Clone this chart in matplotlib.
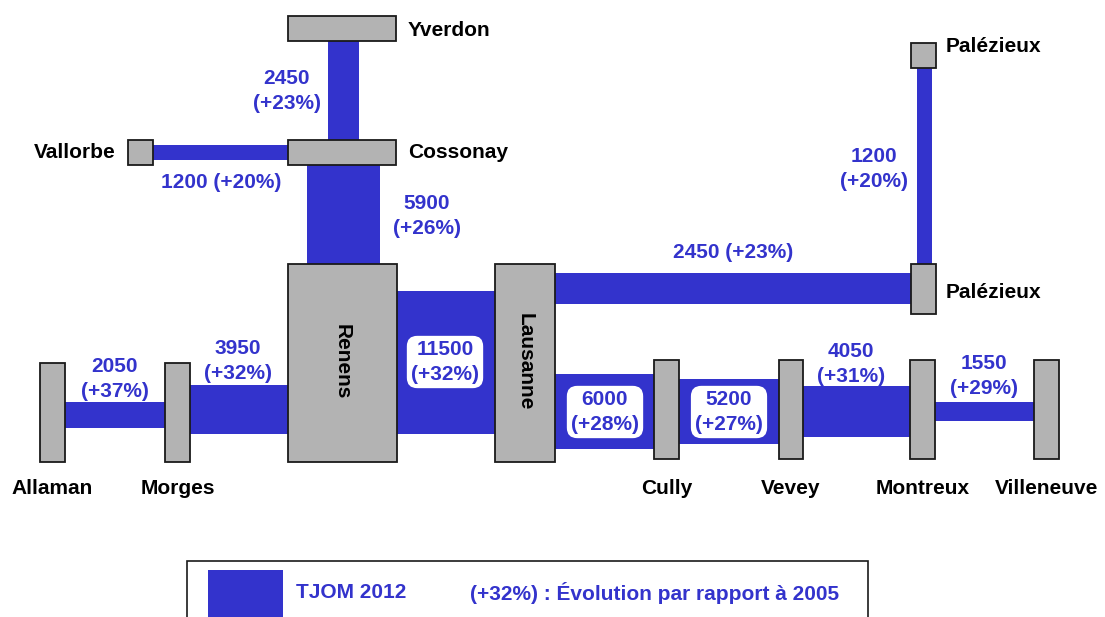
import matplotlib.pyplot as plt
from matplotlib.patches import Rectangle

plt.rcParams['font.family'] = ['Liberation Sans', 'DejaVu Sans']

# traffic data (TJOM 2012, change vs 2005)
flow_names = ['Allaman-Morges', 'Morges-Renens', 'Renens-Lausanne', 'Lausanne-Cully',
              'Cully-Vevey', 'Vevey-Montreux', 'Montreux-Villeneuve',
              'Lausanne-Palézieux', 'Palézieux-Palézieux',
              'Yverdon-Cossonay', 'Vallorbe-Cossonay', 'Cossonay-Renens']
tjom = [2050, 3950, 11500, 6000, 5200, 4050, 1550, 2450, 1200, 2450, 1200, 5900]
evol = [37, 32, 32, 28, 27, 31, 29, 23, 20, 23, 20, 26]

# layout of the diagram (pixels): orientation, start, end, centre line
flow_geom = [('h', 65, 165, 415), ('h', 190, 288, 409.5), ('h', 397, 495, 362.5),
             ('h', 555, 654, 411.5), ('h', 679, 779, 411.5), ('h', 803, 910, 411.5),
             ('h', 935, 1034, 411.5), ('h', 555, 911, 288.5), ('v', 68, 264, 924.5),
             ('v', 41, 140, 343.5), ('h', 153, 288, 152.5), ('v', 165, 264, 343.5)]
px_per_veh = 0.0125

# label placement: x, y, one line or two, boxed
lab_geom = [(115, 379, 2, False), (238, 361, 2, False), (445, 362, 2, True),
            (605, 412, 2, True), (729, 412, 2, True), (851, 364, 2, False),
            (984, 376, 2, False), (733, 253, 1, False), (874, 169, 2, False),
            (287, 91, 2, False), (221, 182, 1, False), (427, 216, 2, False)]

# stations: name, x0, y0, x1, y1
nodes = [('Allaman', 40, 363, 65, 462), ('Morges', 165, 363, 190, 462),
         ('Renens', 288, 264, 397, 462), ('Lausanne', 495, 264, 555, 462),
         ('Cully', 654, 360, 679, 459), ('Vevey', 779, 360, 803, 459),
         ('Montreux', 910, 360, 935, 459), ('Villeneuve', 1034, 360, 1059, 459),
         ('Yverdon', 288, 16, 396, 41), ('Cossonay', 288, 140, 396, 165),
         ('Vallorbe', 128, 140, 153, 165), ('Palézieux', 911, 43, 936, 68),
         ('Palézieux', 911, 264, 936, 314)]

blue = '#3333CC'
grey = '#B3B3B3'

fig = plt.figure(figsize=(11.05, 6.17), dpi=100)
ax = fig.add_axes([0, 0, 1, 1])
ax.set_xlim(0, 1105)
ax.set_ylim(617, 0)
ax.axis('off')

for (o, a, b, c), v in zip(flow_geom, tjom):
    if o == 'h':
        ax.barh(c, b - a, left=a, height=v * px_per_veh, color=blue, zorder=1)
    else:
        ax.bar(c, b - a, bottom=a, width=v * px_per_veh, color=blue, zorder=1)

for name, x0, y0, x1, y1 in nodes:
    ax.add_patch(Rectangle((x0, y0), x1 - x0, y1 - y0, facecolor=grey,
                           edgecolor='#1a1a1a', lw=1.3, zorder=2))

lab = dict(fontsize=15, fontweight='bold', color='black')
for name in ['Allaman', 'Morges', 'Cully', 'Vevey', 'Montreux', 'Villeneuve']:
    n = [nd for nd in nodes if nd[0] == name][0]
    ax.text((n[1] + n[3]) / 2, 489, name, ha='center', va='center', **lab)
ax.text(342, 362, 'Renens', rotation=-90, ha='center', va='center', **lab)
ax.text(525, 362, 'Lausanne', rotation=-90, ha='center', va='center', **lab)
ax.text(408, 30, 'Yverdon', ha='left', va='center', **lab)
ax.text(408, 153, 'Cossonay', ha='left', va='center', **lab)
ax.text(116, 153, 'Vallorbe', ha='right', va='center', **lab)
ax.text(946, 46, 'Palézieux', ha='left', va='center', **lab)
ax.text(946, 292, 'Palézieux', ha='left', va='center', **lab)

for (x, y, nl, boxed), v, p in zip(lab_geom, tjom, evol):
    sep = '\n' if nl == 2 else ' '
    bbox = None
    if boxed:
        bbox = dict(boxstyle='round,pad=0.2,rounding_size=0.5', fc='white', ec='none')
    ax.text(x, y, f'{v}{sep}(+{p}%)', ha='center', va='center', fontsize=15,
            fontweight='bold', color=blue, linespacing=1.4, bbox=bbox, zorder=3)

# legend
ax.add_patch(Rectangle((187, 561), 681, 70, facecolor='white', edgecolor='#1a1a1a',
                       lw=1.2, zorder=2, clip_on=False))
ax.add_patch(Rectangle((208, 570), 75, 60, facecolor=blue, edgecolor='none', zorder=3))
ax.text(296, 593, 'TJOM 2012', ha='left', va='center', fontsize=15, fontweight='bold',
        color=blue, zorder=3)
ax.text(470, 593, '(+32%) : Évolution par rapport à 2005', ha='left', va='center',
        fontsize=15, fontweight='bold', color=blue, zorder=3)

fig.savefig('out.png', dpi=100)
